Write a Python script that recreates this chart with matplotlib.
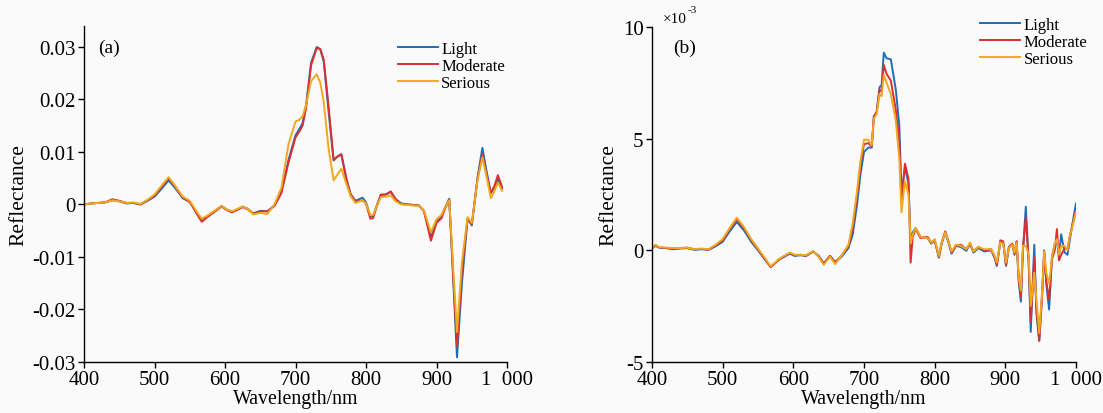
import matplotlib.pyplot as plt
from matplotlib.ticker import FixedLocator, FixedFormatter

plt.rcParams['font.family'] = ['Liberation Serif', 'DejaVu Serif']

# ---- panel (a): reflectance ----
wl_a = [400, 410, 420, 430, 440, 450, 460, 470, 480, 490,
        500, 510, 520, 530, 540, 550, 560, 567, 575, 585,
        595, 603, 610, 618, 625, 632, 640, 650, 660, 670,
        680, 690, 700, 705, 710, 715, 722, 730, 735, 740,
        747, 754, 760, 765, 772, 778, 785, 795, 800, 806,
        810, 815, 821, 828, 835, 842, 850, 860, 875, 882,
        892, 900, 907, 912, 918, 929, 936, 944, 950, 958,
        965, 970, 977, 982, 987, 993]
light_a = [0.0000, 0.0002, 0.0003, 0.0004, 0.0008, 0.0006, 0.0002, 0.0003, 0.0000, 0.0007,
           0.0015, 0.0030, 0.0046, 0.0030, 0.0012, 0.0005, -0.0016, -0.0028, -0.0022, -0.0013,
           -0.0003, -0.0010, -0.0014, -0.0009, -0.0004, -0.0008, -0.0017, -0.0012, -0.0013, -0.0002,
           0.0025, 0.0085, 0.0132, 0.0143, 0.0155, 0.0190, 0.0270, 0.0300, 0.0296, 0.0272,
           0.0175, 0.0084, 0.0092, 0.0096, 0.0050, 0.0020, 0.0007, 0.0013, 0.0004, -0.0022,
           -0.0022, -0.0003, 0.0019, 0.0019, 0.0024, 0.0010, 0.0002, 0.0000, -0.0002, -0.0012,
           -0.0062, -0.0032, -0.0022, -0.0006, 0.0011, -0.0291, -0.0150, -0.0027, -0.0040, 0.0050,
           0.0108, 0.0070, 0.0022, 0.0032, 0.0048, 0.0030]
moderate_a = [0.0000, 0.0002, 0.0003, 0.0004, 0.0010, 0.0007, 0.0003, 0.0003, 0.0000, 0.0008,
              0.0017, 0.0034, 0.0050, 0.0033, 0.0013, 0.0005, -0.0018, -0.0033, -0.0024, -0.0014,
              -0.0004, -0.0011, -0.0015, -0.0010, -0.0005, -0.0009, -0.0018, -0.0013, -0.0013, -0.0003,
              0.0022, 0.0080, 0.0128, 0.0138, 0.0150, 0.0185, 0.0265, 0.0298, 0.0296, 0.0276,
              0.0185, 0.0085, 0.0092, 0.0095, 0.0048, 0.0020, 0.0005, 0.0008, 0.0002, -0.0027,
              -0.0026, -0.0004, 0.0018, 0.0019, 0.0025, 0.0010, 0.0001, 0.0000, -0.0002, -0.0012,
              -0.0069, -0.0035, -0.0026, -0.0008, 0.0008, -0.0271, -0.0125, -0.0027, -0.0038, 0.0048,
              0.0095, 0.0062, 0.0022, 0.0035, 0.0056, 0.0033]
serious_a = [0.0000, 0.0002, 0.0003, 0.0004, 0.0008, 0.0006, 0.0003, 0.0004, 0.0001, 0.0009,
             0.0019, 0.0036, 0.0052, 0.0034, 0.0015, 0.0007, -0.0014, -0.0027, -0.0021, -0.0012,
             -0.0003, -0.0010, -0.0013, -0.0008, -0.0004, -0.0008, -0.0019, -0.0016, -0.0018, 0.0000,
             0.0032, 0.0115, 0.0158, 0.0161, 0.0168, 0.0190, 0.0235, 0.0248, 0.0232, 0.0195,
             0.0105, 0.0046, 0.0058, 0.0068, 0.0040, 0.0016, 0.0003, 0.0008, 0.0002, -0.0020,
             -0.0020, -0.0004, 0.0014, 0.0015, 0.0017, 0.0006, 0.0000, -0.0001, -0.0003, -0.0011,
             -0.0053, -0.0028, -0.0020, -0.0006, 0.0008, -0.0243, -0.0110, -0.0024, -0.0035, 0.0045,
             0.0090, 0.0060, 0.0012, 0.0025, 0.0042, 0.0026]

# ---- panel (b): reflectance in units of 1e-3 ----
wl_b = [400, 405, 410, 420, 430, 440, 450, 460, 470, 480,
        490, 500, 510, 520, 530, 540, 550, 560, 568, 580,
        595, 602, 610, 618, 628, 636, 643, 652, 659, 668,
        678, 684, 690, 695, 700, 706, 711, 714, 718, 722,
        725, 728, 732, 738, 745, 750, 753, 758, 763, 766,
        769, 773, 780, 790, 795, 800, 806, 810, 815, 820,
        824, 830, 837, 845, 850, 855, 862, 870, 880, 885,
        888, 893, 897, 901, 905, 910, 913, 916, 919, 922,
        925, 929, 933, 936, 941, 944, 948, 952, 955, 958,
        962, 966, 970, 973, 976, 979, 984, 988, 991, 994,
        1000]
light_b = [0.10, 0.22, 0.12, 0.10, 0.05, 0.08, 0.10, 0.02, 0.05, 0.02,
           0.18, 0.38, 0.85, 1.27, 0.90, 0.40, 0.00, -0.42, -0.75, -0.42,
           -0.15, -0.25, -0.22, -0.25, -0.05, -0.25, -0.58, -0.25, -0.52, -0.30,
           0.10, 0.70, 2.00, 3.40, 4.40, 4.60, 4.60, 6.00, 6.20, 7.30,
           7.40, 8.85, 8.60, 8.55, 7.20, 5.60, 2.60, 3.70, 3.00, 0.40,
           0.80, 1.00, 0.60, 0.55, 0.30, 0.45, -0.33, 0.30, 0.80, 0.30,
           -0.15, 0.20, 0.15, -0.02, 0.30, -0.10, 0.10, -0.05, 0.00, -0.35,
           -0.70, 0.35, 0.35, -0.70, 0.10, 0.25, -0.20, 0.40, -1.40, -2.30,
           0.00, 1.95, -0.50, -3.65, 0.25, -2.80, -4.05, -2.00, 0.00, -1.50,
           -2.65, -0.30, 0.30, 0.40, -0.30, 0.72, -0.10, -0.20, 0.40, 1.00,
           2.10]
moderate_b = [0.10, 0.20, 0.14, 0.10, 0.08, 0.10, 0.12, 0.05, 0.06, 0.04,
              0.22, 0.45, 0.95, 1.39, 1.00, 0.48, 0.05, -0.40, -0.75, -0.40,
              -0.12, -0.22, -0.20, -0.25, -0.05, -0.28, -0.60, -0.25, -0.55, -0.25,
              0.20, 1.00, 2.40, 3.80, 4.75, 4.80, 4.65, 6.00, 6.20, 7.20,
              7.10, 8.30, 7.90, 7.60, 6.30, 4.90, 2.20, 3.88, 3.20, -0.55,
              0.60, 0.95, 0.55, 0.60, 0.35, 0.45, -0.30, 0.35, 0.85, 0.35,
              -0.10, 0.20, 0.25, 0.05, 0.30, -0.05, 0.15, 0.00, 0.05, -0.30,
              -0.65, 0.45, 0.40, -0.65, 0.15, 0.30, -0.15, 0.40, -1.30, -2.10,
              0.10, 1.45, -0.40, -3.20, -0.30, -2.60, -4.05, -2.10, -0.10, -1.40,
              -2.20, -0.40, 0.00, 0.95, -0.45, -0.20, 0.10, 0.05, 0.60, 1.00,
              1.80]
serious_b = [0.12, 0.25, 0.15, 0.12, 0.10, 0.10, 0.12, 0.05, 0.08, 0.05,
             0.25, 0.50, 1.00, 1.46, 1.05, 0.52, 0.08, -0.35, -0.72, -0.38,
             -0.10, -0.20, -0.20, -0.22, -0.03, -0.30, -0.65, -0.28, -0.62, -0.25,
             0.25, 1.20, 2.60, 4.00, 4.95, 4.95, 4.70, 5.90, 6.10, 7.00,
             6.90, 7.85, 7.50, 7.00, 5.80, 4.10, 1.70, 3.10, 2.50, 0.30,
             0.70, 1.00, 0.60, 0.55, 0.35, 0.50, -0.25, 0.35, 0.80, 0.35,
             -0.05, 0.25, 0.20, 0.05, 0.35, -0.05, 0.15, 0.05, 0.05, -0.25,
             -0.55, 0.35, 0.30, -0.55, 0.10, 0.25, -0.10, 0.35, -1.20, -1.80,
             0.20, 0.20, -0.20, -2.50, -1.00, -2.20, -3.70, -1.90, -0.05, -1.00,
             -1.50, -0.30, 0.30, 0.50, -0.20, 0.20, 0.20, 0.00, 0.60, 0.95,
             1.70]

labels = ['Light', 'Moderate', 'Serious']
colors = ['#1f6db4', '#dc2f2f', '#f0a81e']
x_ticks = [400, 500, 600, 700, 800, 900, 1000]
x_tick_labels = ['400', '500', '600', '700', '800', '900', '1  000']

fig = plt.figure(figsize=(11.03, 4.14), dpi=100)
fig.patch.set_facecolor('#fafafa')
ax_a = fig.add_axes([0.0762, 0.1232, 0.3835, 0.8116])
ax_b = fig.add_axes([0.5911, 0.1232, 0.3844, 0.8092])


def style_axis(ax):
    ax.set_facecolor('#fafafa')
    for side in ['top', 'right']:
        ax.spines[side].set_visible(False)
    for side in ['left', 'bottom']:
        ax.spines[side].set_linewidth(1.0)
    ax.tick_params(direction='out', length=4, width=1.0, labelsize=15, pad=2)
    ax.set_xlim(400, 1000)
    ax.xaxis.set_major_locator(FixedLocator(x_ticks))
    ax.xaxis.set_major_formatter(FixedFormatter(x_tick_labels))
    ax.set_xlabel('Wavelength/nm', fontsize=14.3, labelpad=0)
    ax.set_ylabel('Reflectance', fontsize=15.5, labelpad=3)


# panel (a)
for series, name, c in zip([light_a, moderate_a, serious_a], labels, colors):
    ax_a.plot(wl_a, series, color=c, linewidth=1.4, label=name)
style_axis(ax_a)
ax_a.set_ylim(-0.03, 0.034)
a_ticks = [-0.03, -0.02, -0.01, 0, 0.01, 0.02, 0.03]
ax_a.yaxis.set_major_locator(FixedLocator(a_ticks))
ax_a.yaxis.set_major_formatter(FixedFormatter(['-0.03', '-0.02', '-0.01', '0', '0.01', '0.02', '0.03']))
ax_a.text(0.033, 0.935, '(a)', transform=ax_a.transAxes, fontsize=14, va='center')
ax_a.legend(loc='upper left', bbox_to_anchor=(0.714, 0.99), frameon=False, fontsize=12,
            handlelength=2.4, handletextpad=0.2, labelspacing=0.05, borderaxespad=0.3)

# panel (b)
for series, name, c in zip([light_b, moderate_b, serious_b], labels, colors):
    ax_b.plot(wl_b, series, color=c, linewidth=1.4, label=name)
style_axis(ax_b)
ax_b.set_ylim(-5, 10)
ax_b.yaxis.set_major_locator(FixedLocator([-5, 0, 5, 10]))
ax_b.yaxis.set_major_formatter(FixedFormatter(['-5', '0', '5', '10']))
ax_b.text(0.026, 1.005, '\u00d710', transform=ax_b.transAxes, fontsize=11, va='bottom')
ax_b.text(0.083, 1.04, '-3', transform=ax_b.transAxes, fontsize=8, va='bottom')
ax_b.text(0.05, 0.94, '(b)', transform=ax_b.transAxes, fontsize=14, va='center')
ax_b.legend(loc='upper left', bbox_to_anchor=(0.747, 1.065), frameon=False, fontsize=12,
            handlelength=2.4, handletextpad=0.2, labelspacing=0.05, borderaxespad=0.3)

fig.savefig('out.png', dpi=100, facecolor=fig.get_facecolor())
